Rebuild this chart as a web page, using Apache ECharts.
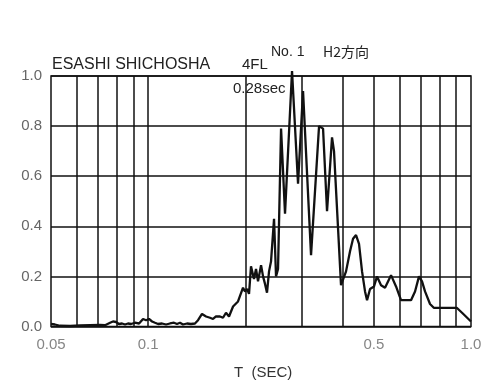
<!DOCTYPE html>
<html><head><meta charset="utf-8">
<script src="https://cdn.jsdelivr.net/npm/echarts@6/dist/echarts.min.js"></script>
<style>html,body{margin:0;padding:0;background:#fff}#c{width:481px;height:384px}</style>
</head><body><div id="c"></div>
<script>
// Period T (sec)
const periods = [0.0500,0.0514,0.0533,0.0573,0.0615,0.0660,0.0709,0.0735,0.0762,0.0778,0.0795,0.0812,0.0830,0.0848,0.0866,0.0885,0.0910,0.0937,0.0964,0.0985,0.1006,0.1028,0.1050,0.1073,0.1104,0.1136,0.1168,0.1202,0.1228,0.1255,0.1282,0.1319,0.1357,0.1396,0.1427,0.1468,0.1511,0.1554,0.1588,0.1622,0.1669,0.1705,0.1742,0.1780,0.1832,0.1858,0.1898,0.1925,0.1967,0.1995,0.2024,0.2053,0.2082,0.2127,0.2158,0.2189,0.2237,0.2269,0.2301,0.2334,0.2368,0.2402,0.2454,0.2489,0.2525,0.2580,0.2654,0.2790,0.2912,0.3018,0.3195,0.3383,0.3481,0.3581,0.3711,0.3764,0.3957,0.4101,0.4220,0.4311,0.4404,0.4499,0.4597,0.4696,0.4764,0.4867,0.5007,0.5116,0.5264,0.5416,0.5653,0.5858,0.6070,0.6520,0.6709,0.6902,0.7051,0.7204,0.7466,0.7682,0.9050,0.9380,1.0];
// Normalised response
const response = [0.010,0.008,0.003,0.002,0.004,0.005,0.006,0.005,0.015,0.020,0.018,0.010,0.012,0.008,0.012,0.010,0.015,0.012,0.030,0.025,0.030,0.020,0.015,0.010,0.012,0.008,0.012,0.015,0.010,0.015,0.008,0.012,0.010,0.012,0.025,0.050,0.040,0.035,0.030,0.040,0.040,0.035,0.055,0.040,0.080,0.085,0.100,0.100,0.155,0.140,0.150,0.130,0.240,0.190,0.230,0.180,0.245,0.200,0.170,0.135,0.220,0.260,0.430,0.200,0.230,0.790,0.450,1.020,0.570,0.940,0.285,0.800,0.790,0.460,0.755,0.700,0.165,0.220,0.300,0.350,0.365,0.330,0.220,0.140,0.105,0.150,0.160,0.200,0.165,0.155,0.205,0.160,0.105,0.105,0.140,0.200,0.180,0.140,0.090,0.074,0.074,0.055,0.020];
// Vertical grid positions and x tick labels
const xGrid = [0.06,0.07,0.08,0.09,0.1,0.2,0.3,0.4,0.5,0.6,0.7,0.8,0.9];
const xTicks = [0.05,0.1,0.5,1.0];
const xTickLabels = ['0.05','0.1','0.5','1.0'];

const FONT = '"Liberation Sans Narrow","Liberation Sans",sans-serif';
const chart = echarts.init(document.getElementById('c'));
chart.setOption({
  animation:false,
  backgroundColor:'#fff',
  grid:{left:51,right:10,top:76,bottom:57.5,show:true,borderColor:'#111',borderWidth:1.5,backgroundColor:'transparent'},
  xAxis:{type:'log',logBase:10,min:0.05,max:1.0,
    axisLine:{show:false},axisTick:{show:false},axisLabel:{show:false},splitLine:{show:false},minorSplitLine:{show:false}},
  yAxis:{type:'value',min:0,max:1.0,interval:0.2,
    axisLine:{show:false},axisTick:{show:false},
    axisLabel:{formatter:v=>v.toFixed(1),color:'#666',fontSize:15,fontFamily:FONT,margin:9},
    splitLine:{show:true,lineStyle:{color:'#111',width:1.5}}},
  graphic:[
    {type:'text',left:52,top:57,style:{text:'ESASHI SHICHOSHA',font:'16px '+FONT,fill:'#222'}},
    {type:'text',left:242,top:57,style:{text:'4FL',font:'15px '+FONT,fill:'#222'}},
    {type:'text',left:271,top:45,style:{text:'No. 1',font:'14px '+FONT,fill:'#222'}},
    {type:'text',left:323,top:45,style:{text:'H2方向',font:'14px "Noto Sans CJK JP",'+FONT,fill:'#222'}},
    {type:'text',left:233,top:81,style:{text:'0.28sec',font:'15px '+FONT,fill:'#222'}},
    {type:'text',left:234,top:365,style:{text:'T  (SEC)',font:'15px '+FONT,fill:'#333'}}
  ],
  series:[
    {type:'line',data:periods.map((t,i)=>[t,response[i]]),showSymbol:false,clip:false,
     lineStyle:{color:'#111',width:2.3},z:5,
     markLine:{silent:true,symbol:'none',label:{show:false},
       lineStyle:{color:'#111',width:1.5,type:'solid'},
       data:xGrid.map(v=>({xAxis:v}))}},
    {type:'scatter',symbolSize:0,silent:true,
     data:xTicks.map((t,i)=>[t,0,xTickLabels[i]]),
     label:{show:true,position:'bottom',distance:11,formatter:p=>p.data[2],color:'#666',fontSize:15,fontFamily:FONT}}
  ]
});
</script></body></html>
